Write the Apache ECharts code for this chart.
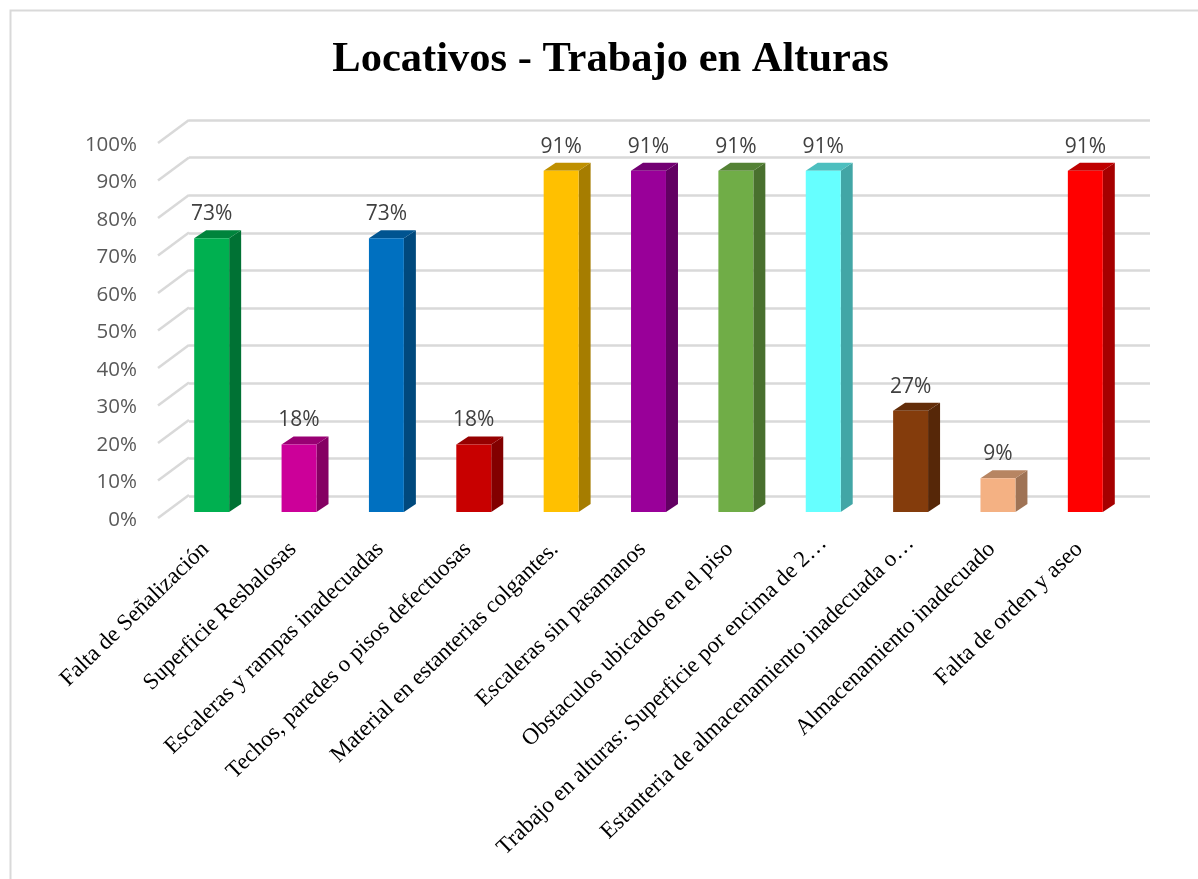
<!DOCTYPE html>
<html>
<head>
<meta charset="utf-8">
<script src="https://cdn.jsdelivr.net/npm/echarts@6/dist/echarts.min.js"></script>
<style>
  html, body { margin: 0; padding: 0; background: #fff; }
  #chart { width: 1198px; height: 879px; }
</style>
</head>
<body>
<div id="chart"></div>
<script>
const categories = [
  "Falta de Señalización",
  "Superficie Resbalosas",
  "Escaleras y rampas inadecuadas",
  "Techos, paredes o pisos defectuosas",
  "Material en estanterias colgantes.",
  "Escaleras sin pasamanos",
  "Obstaculos ubicados en el piso",
  "Trabajo en alturas: Superficie por encima de 2…",
  "Estanteria de almacenamiento inadecuada o…",
  "Almacenamiento inadecuado",
  "Falta de orden y aseo",
];
const values = [73, 18, 73, 18, 91, 91, 91, 91, 27, 9, 91];
const barColors = [
  "#00B050", "#CC0099", "#0070C0", "#C80000", "#FFC000", "#990099",
  "#70AD47", "#66FFFF", "#843C0C", "#F4B183", "#FF0000",
];
const yTicks = [0, 10, 20, 30, 40, 50, 60, 70, 80, 90, 100];

// fake 3d depth of the bars and of the floor
const barDepthX = 12, barDepthY = 8;
const wallDepthX = 31, wallDepthY = 23;
const gridColor = "#D9D9D9";

function shade(hex, f) {
  const n = parseInt(hex.slice(1), 16);
  const c = [n >> 16, (n >> 8) & 255, n & 255].map((v) => Math.round(v * f));
  return "rgb(" + c.join(",") + ")";
}

function renderBar(params, api) {
  const i = params.dataIndex;
  const top = api.coord([i, api.value(1)]);
  const base = api.coord([i, 0]);
  const w = api.size([1, 0])[0] * 0.4;
  const l = top[0] - w / 2, r = top[0] + w / 2;
  const color = barColors[i];
  const dx = barDepthX, dy = barDepthY;
  return {
    type: "group",
    children: [
      { type: "polygon", shape: { points: [[r, top[1]], [r + dx, top[1] - dy], [r + dx, base[1] - dy], [r, base[1]]] },
        style: { fill: shade(color, 0.65) } },
      { type: "polygon", shape: { points: [[l, top[1]], [l + dx, top[1] - dy], [r + dx, top[1] - dy], [r, top[1]]] },
        style: { fill: shade(color, 0.75) } },
      { type: "rect", shape: { x: l, y: top[1], width: r - l, height: base[1] - top[1] },
        style: { fill: color } },
      { type: "text", x: top[0], y: top[1] - 24,
        style: { text: api.value(1) + "%", fill: "#404040", font: '21px "Open Sans"', align: "center", verticalAlign: "middle" } },
    ],
  };
}

function renderDiagonal(params, api) {
  const p = api.coord([0, api.value(1)]);
  return {
    type: "line",
    shape: { x1: p[0], y1: p[1], x2: p[0] + wallDepthX, y2: p[1] - wallDepthY },
    style: { stroke: gridColor, lineWidth: 2.5 },
  };
}

const labelFont = { fontFamily: "Liberation Serif", fontSize: 23, color: "#000" };

const chart = echarts.init(document.getElementById("chart"), null, { renderer: "canvas" });
chart.setOption({
  animation: false,
  backgroundColor: "#fff",
  title: {
    text: "Locativos - Trabajo en Alturas",
    left: 605.5,
    top: 34,
    textAlign: "center",
    textStyle: { fontFamily: "Liberation Serif", fontSize: 42.5, fontWeight: "bold", color: "#000" },
  },
  graphic: [
    { type: "polyline", shape: { points: [[10.5, 879], [10.5, 10.5], [1198, 10.5]] },
      style: { stroke: gridColor, lineWidth: 2, fill: null }, silent: true },
  ],
  grid: [
    // back wall
    { left: 189, right: 48, top: 120, height: 376 },
    // front edge of the floor
    { left: 158, right: 48, top: 143, height: 375 },
    // bars
    { left: 168, width: 961, top: 137, height: 375 },
    // value labels
    { left: 158, right: 48, top: 145, height: 375 },
  ],
  xAxis: [
    { gridIndex: 0, type: "category", show: false, data: categories },
    { gridIndex: 1, type: "category", show: false, boundaryGap: false, data: categories },
    {
      gridIndex: 2,
      type: "category",
      data: categories,
      axisLine: { show: false },
      axisTick: { show: false },
      axisLabel: {
        rotate: 44,
        interval: 0,
        margin: 28,
        ...labelFont,
        // the cut off labels sit a bit closer to the axis in the original
        formatter: (v) => (v.endsWith("…") ? "{cut|" + v + "}" : "{full|" + v + "}"),
        rich: {
          cut: { ...labelFont },
          full: { ...labelFont, padding: [0, 8.5, 0, 0] },
        },
      },
    },
    { gridIndex: 3, type: "category", show: false, data: categories },
  ],
  yAxis: [
    {
      gridIndex: 0, type: "value", min: 0, max: 100, interval: 10,
      axisLine: { show: false }, axisTick: { show: false }, axisLabel: { show: false },
      splitLine: { show: true, lineStyle: { color: gridColor, width: 2.5 } },
    },
    { gridIndex: 1, type: "value", min: 0, max: 100, interval: 10, show: false, splitLine: { show: false } },
    { gridIndex: 2, type: "value", min: 0, max: 100, interval: 10, show: false, splitLine: { show: false } },
    {
      gridIndex: 3, type: "value", min: 0, max: 100, interval: 10,
      axisLine: { show: false }, axisTick: { show: false }, splitLine: { show: false },
      axisLabel: { margin: 21, fontFamily: "Open Sans", fontSize: 20.5, color: "#595959", formatter: "{value}%" },
    },
  ],
  series: [
    {
      type: "custom",
      xAxisIndex: 1,
      yAxisIndex: 1,
      renderItem: renderDiagonal,
      clip: false,
      silent: true,
      encode: { x: 0, y: 1 },
      data: yTicks.map((t) => [0, t]),
    },
    {
      type: "custom",
      xAxisIndex: 2,
      yAxisIndex: 2,
      renderItem: renderBar,
      clip: false,
      encode: { x: 0, y: 1 },
      data: values.map((v, i) => [i, v]),
    },
  ],
});
</script>
</body>
</html>
